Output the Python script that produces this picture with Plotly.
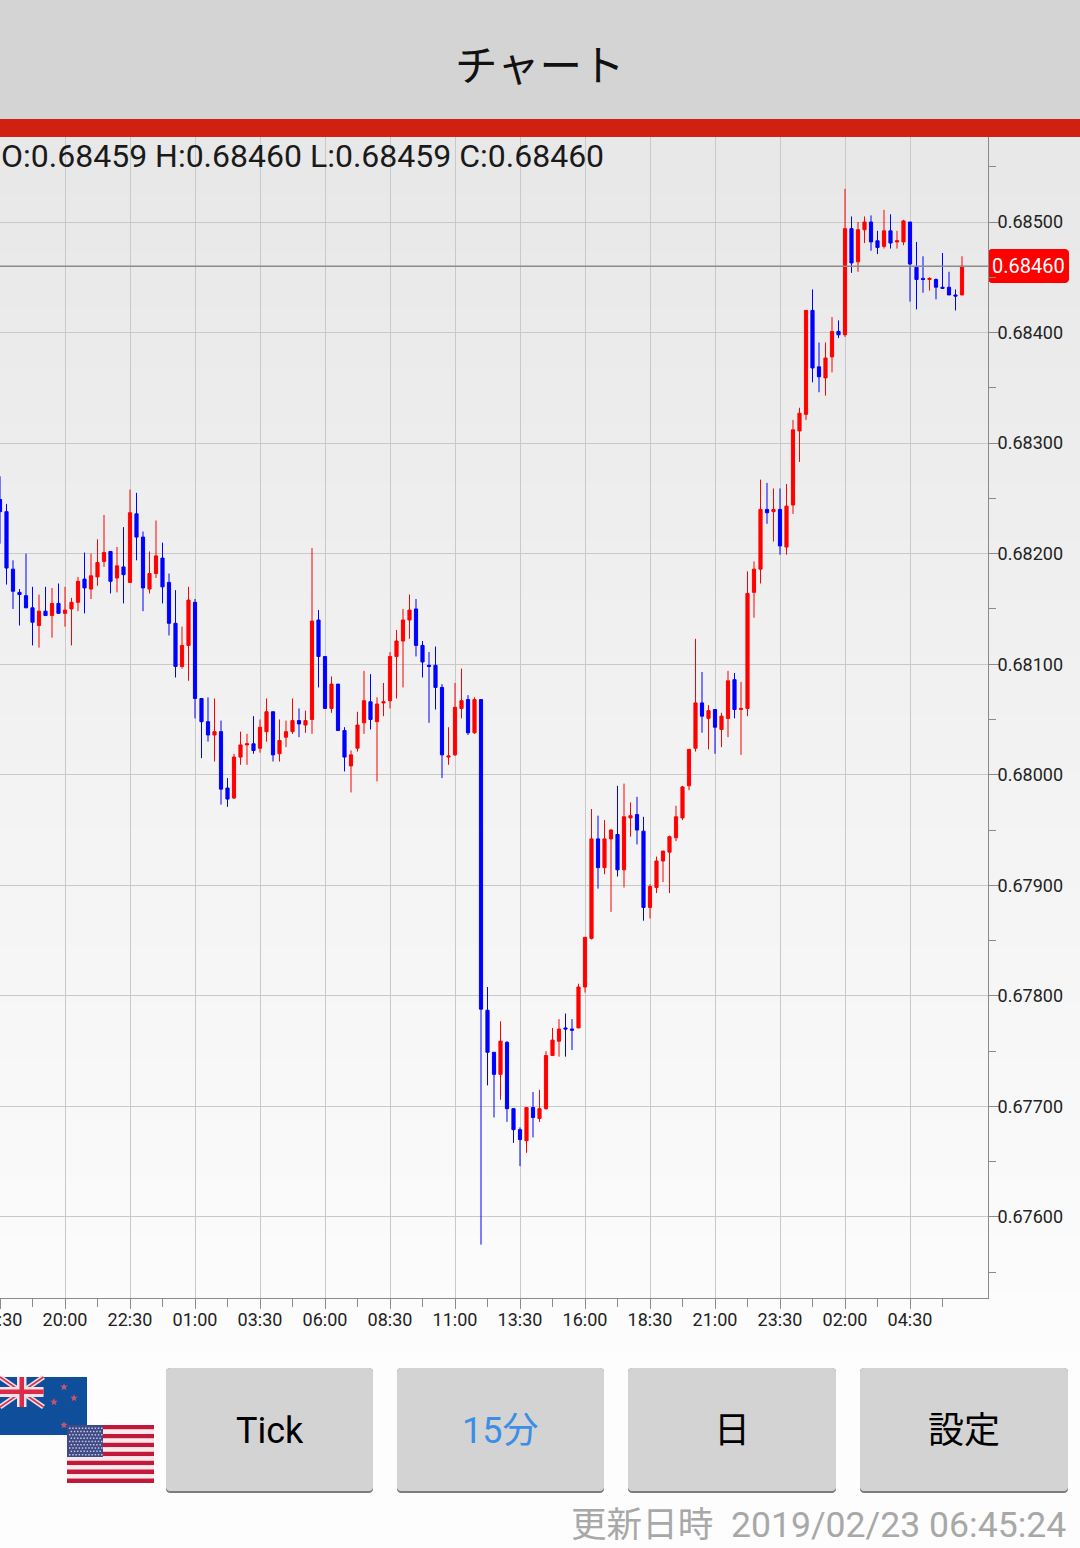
import math
import plotly.graph_objects as go

# Prices in 1e-5 units, one entry per 15-minute candle
highs = [68270,68245,68194,68168,68200,68170,68163,68170,68169,68173,
68170,68160,68179,68201,68200,68213,68235,68202,68206,68224,
68258,68255,68220,68202,68230,68210,68182,68167,68134,68170,
68159,68069,68070,68069,68049,67997,68019,68039,68037,68053,
68050,68069,68057,68050,68049,68069,68060,68058,68205,68149,
68107,68089,68082,68043,68022,68057,68094,68091,68070,68083,
68111,68131,68150,68163,68159,68121,68111,68116,68082,68043,
68083,68096,68072,68070,68068,67808,67749,67777,67759,67698,
67681,67699,67713,67715,67750,67771,67779,67784,67779,67811,
67853,67969,67963,67959,67951,67990,67992,67975,67980,67962,
67901,67926,67931,67945,67972,67990,68023,68123,68093,68063,
68059,68056,68094,68092,68084,68184,68193,68267,68264,68259,
68259,68263,68321,68332,68420,68439,68391,68391,68414,68411,
68530,68505,68500,68505,68506,68492,68511,68507,68492,68502,
68500,68482,68469,68450,68449,68472,68455,68439,68469]
lows = [68209,68172,68150,68135,68151,68117,68115,68144,68124,68146,
68134,68117,68148,68146,68159,68171,68188,68164,68165,68155,
68174,68194,68148,68164,68178,68155,68126,68088,68096,68085,
68051,68015,68030,68012,67973,67971,67978,68009,68009,68019,
68020,68030,68012,68012,68025,68037,68034,68038,68037,68079,
68060,68056,68040,68003,67984,68021,68037,68041,67994,68053,
68060,68069,68079,68123,68107,68088,68047,68059,67997,68009,
68017,68051,68036,68037,67575,67719,67690,67706,67686,67667,
67646,67658,67672,67686,67697,67746,67745,67745,67751,67771,
67803,67851,67897,67910,67876,67908,67898,67944,67937,67868,
67870,67893,67903,67893,67940,67959,67986,68021,68038,68023,
68019,68025,68034,68051,68018,68053,68142,68173,68227,68211,
68199,68199,68236,68283,68321,68355,68346,68343,68364,68395,
68396,68454,68455,68481,68474,68471,68476,68476,68476,68479,
68428,68421,68436,68438,68430,68440,68434,68420,68434]
opens = [68249,68238,68186,68165,68162,68151,68135,68148,68144,68155,
68146,68150,68156,68177,68168,68179,68193,68202,68178,68188,
68174,68236,68215,68168,68182,68196,68174,68137,68098,68117,
68156,68069,68048,68036,68039,67988,67979,68016,68027,68028,
68024,68039,68057,68019,68034,68039,68049,68045,68050,68140,
68107,68060,68082,68040,68008,68024,68047,68066,68048,68065,
68067,68107,68121,68140,68150,68117,68099,68099,68079,68016,
68018,68060,68068,68038,68068,67787,67749,67729,67758,67698,
67679,67669,67699,67689,67698,67746,67759,67771,67770,67771,
67808,67852,67942,67916,67942,67946,67914,67961,67964,67949,
67880,67898,67922,67930,67943,67961,67990,68024,68065,68051,
68059,68041,68051,68086,68059,68060,68165,68186,68240,68238,
68240,68206,68244,68311,68326,68420,68369,68359,68378,68401,
68398,68494,68464,68493,68500,68483,68478,68492,68482,68482,
68500,68459,68449,68448,68448,68441,68441,68434,68434]
closes = [68238,68187,68166,68163,68151,68138,68148,68144,68155,68146,
68149,68156,68175,68169,68180,68192,68201,68175,68189,68181,
68237,68215,68169,68182,68198,68170,68137,68098,68117,68158,
68069,68048,68036,68039,67987,67978,68016,68027,68028,68022,
68043,68057,68018,68031,68039,68049,68046,68049,68139,68107,
68060,68082,68040,68016,68018,68045,68067,68050,68064,68066,
68107,68121,68140,68149,68117,68102,68098,68079,68018,68017,
68061,68067,68038,68068,67788,67749,67729,67759,67698,67679,
67670,67699,67690,67698,67746,67760,67770,67770,67769,67808,
67853,67942,67916,67942,67950,67914,67962,67963,67950,67880,
67899,67922,67931,67944,67962,67989,68023,68065,68053,68058,
68043,68053,68085,68059,68060,68164,68186,68240,68237,68240,
68207,68243,68312,68327,68420,68368,68360,68377,68401,68398,
68494,68463,68493,68500,68482,68477,68492,68481,68483,68501,
68462,68448,68448,68449,68441,68440,68434,68433,68460]
time_labels = ["17:30","20:00","22:30","01:00","03:30","06:00","08:30","11:00",
               "13:30","16:00","18:30","21:00","23:30","02:00","04:30"]
price_ticks = [0.676,0.677,0.678,0.679,0.680,0.681,0.682,0.683,0.684,0.685]
last_price = 0.68460
ohlc_text = "O:0.68459 H:0.68460 L:0.68459 C:0.68460"
title_text = "チャート"
updated_text = "更新日時  2019/02/23 06:45:24"
buttons = [("Tick", 166, 373, "#000000"), ("15分", 397, 604, "#3b8ee6"),
           ("日", 628, 836, "#000000"), ("設定", 860, 1068, "#000000")]

W, H = 1080, 1548
L, R, T, B = 0, 988, 137, 1298
FONT = "Roboto, 'Noto Sans CJK JP', sans-serif"
CJK = "'Noto Sans CJK JP', Roboto, sans-serif"

def xp(px):
    return (px - L) / (R - L)

def yp(py):
    return (B - py) / (B - T)

shapes = []

def rect(x0, y0, x1, y1, fill):
    shapes.append(dict(type="rect", xref="paper", yref="paper", x0=xp(x0), x1=xp(x1), y0=yp(y0), y1=yp(y1),
                       fillcolor=fill, line=dict(width=0), layer="below"))

def seg(x0, y0, x1, y1, color, w):
    shapes.append(dict(type="line", xref="paper", yref="paper", x0=xp(x0), x1=xp(x1), y0=yp(y0), y1=yp(y1),
                       line=dict(color=color, width=w), layer="below"))

def poly(points, fill):
    d = "M " + " L ".join(f"{xp(a):.5f} {yp(b):.5f}" for a, b in points) + " Z"
    shapes.append(dict(type="path", xref="paper", yref="paper", path=d, fillcolor=fill,
                       line=dict(width=0), layer="below"))

def rounded(x0, y0, x1, y1, r, fill):
    pts = []
    for cx, cy, a0 in [(x1 - r, y0 + r, -90), (x1 - r, y1 - r, 0), (x0 + r, y1 - r, 90), (x0 + r, y0 + r, 180)]:
        for k in range(5):
            a = math.radians(a0 + k * 22.5)
            pts.append((cx + r * math.cos(a), cy + r * math.sin(a)))
    poly(pts, fill)

def star(cx, cy, r, fill):
    pts = []
    for k in range(10):
        a = math.radians(-90 + 36 * k)
        rr = r if k % 2 == 0 else r * 0.42
        pts.append((cx + rr * math.cos(a), cy + rr * math.sin(a)))
    poly(pts, fill)

# Page background: soft vertical gradient
rect(0, 0, W, H, "#fdfdfd")
g0, g1 = 232, 253
y_start, y_end = 137, 1350
steps = g1 - g0
for k in range(steps):
    v = g0 + k
    a = y_start + (y_end - y_start) * k / steps
    b = y_start + (y_end - y_start) * (k + 1) / steps
    rect(0, a, W, b + 0.5, f"rgb({v},{v},{v})")

# Header
rect(0, 0, W, 119, "#d4d4d4")
rect(0, 119, W, 137, "#cf2012")

# Last price line
shapes.append(dict(type="line", xref="paper", yref="y", x0=0, x1=1, y0=last_price, y1=last_price,
                   line=dict(color="#8c8c8c", width=1.6), layer="above"))
rounded(988, 249, 1069, 283, 4, "#fe0000")

# New Zealand flag
NZ = "#0f4e9b"
rect(0, 1377, 87, 1435, NZ)
seg(0, 1377, 43.5, 1407, "#f0dfe4", 5)
seg(43.5, 1377, 0, 1407, "#f0dfe4", 5)
seg(0, 1377, 43.5, 1407, "#d8324f", 1.6)
seg(43.5, 1377, 0, 1407, "#d8324f", 1.6)
rect(17, 1377, 26.5, 1407, "#f3e3e8")
rect(0, 1387, 43.5, 1397, "#f3e3e8")
rect(19.5, 1377, 24, 1407, "#dc2a48")
rect(0, 1389.5, 43.5, 1394, "#dc2a48")
for sx, sy in [(64, 1387), (74, 1398), (54, 1402), (64, 1425)]:
    star(sx, sy, 4, "#c9566f")

# United States flag
for k in range(13):
    a = 1425 + 58 * k / 13
    b = 1425 + 58 * (k + 1) / 13
    rect(67, a, 154, b, "#c2183a" if k % 2 == 0 else "#f7e9ec")
rect(67, 1425, 103, 1457, "#3f4a86")
for row in range(9):
    for col in range(11 if row % 2 == 0 else 10):
        ox = 69 + col * 3.2 + (0 if row % 2 == 0 else 1.6)
        oy = 1427.5 + row * 3.3
        rect(ox, oy, ox + 1.5, oy + 1.5, "#c3c8de")

# Buttons
for label, bx0, bx1, color in buttons:
    rounded(bx0, 1368, bx1, 1493, 4, "#7d7d7d")
    rounded(bx0, 1368, bx1, 1491, 4, "#d3d3d3")

annotations = []

def text(px, py, s, size, color, anchor="center", family=FONT):
    annotations.append(dict(xref="paper", yref="paper", x=xp(px), y=yp(py), text=s, showarrow=False,
                            xanchor=anchor, yanchor="middle", borderpad=0, borderwidth=0,
                            font=dict(family=family, size=size, color=color)))

text(540, 63, title_text, 42.5, "#111111", family=CJK)
text(1, 156, ohlc_text, 32, "#1a1a1a", "left")
text(1028.5, 266, f"{last_price:.5f}", 20, "#ffffff")
for label, bx0, bx1, color in buttons:
    text((bx0 + bx1) / 2, 1431, label, 36, color)
text(1066, 1525, updated_text, 35.6, "#a8a8a8", "right")

pts = 100000.0
idx = list(range(len(closes)))
fig = go.Figure(go.Candlestick(
    x=idx,
    open=[v / pts for v in opens], high=[v / pts for v in highs],
    low=[v / pts for v in lows], close=[v / pts for v in closes],
    increasing=dict(line=dict(color="#ff0000", width=1), fillcolor="#ff0000"),
    decreasing=dict(line=dict(color="#0000ff", width=1), fillcolor="#0000ff"),
    whiskerwidth=0, showlegend=False, hoverinfo="skip"))

major_x = [10 * k for k in range(len(time_labels))]
minor_x = [5 + 10 * k for k in range(len(time_labels))]
axis_color = "#8a8a8a"
grid_color = "#c9c9c9"
fig.update_layout(
    width=W, height=H, margin=dict(l=L, r=W - R, t=T, b=H - B, autoexpand=False),
    paper_bgcolor="rgba(0,0,0,0)", plot_bgcolor="rgba(0,0,0,0)",
    boxgap=0.3, shapes=shapes, annotations=annotations, dragmode=False,
    font=dict(family=FONT),
    xaxis=dict(range=[0, 152], rangeslider=dict(visible=False), tickmode="array", automargin=False,
               tickvals=major_x, ticktext=time_labels, showgrid=True, gridcolor=grid_color, gridwidth=1,
               zeroline=False, showline=True, linecolor=axis_color, linewidth=1, ticks="outside",
               ticklen=10, tickcolor=axis_color, tickwidth=1, ticklabeloverflow="allow",
               ticklabelstandoff=-5,
               tickfont=dict(family=FONT, size=18, color="#222222"),
               minor=dict(tickmode="array", tickvals=minor_x, ticks="outside", ticklen=8,
                          tickcolor=axis_color, tickwidth=1, showgrid=False)),
    yaxis=dict(range=[0.675267, 0.685769], side="right", tickmode="array", tickvals=price_ticks,
               automargin=False, ticklabelstandoff=-5,
               tickformat=".5f", showgrid=True, gridcolor=grid_color, gridwidth=1, zeroline=False,
               showline=True, linecolor=axis_color, linewidth=1, ticks="outside", ticklen=10,
               tickcolor=axis_color, tickwidth=1,
               tickfont=dict(family=FONT, size=18, color="#222222"),
               minor=dict(dtick=0.0005, tick0=0.6755, ticks="outside", ticklen=7,
                          tickcolor=axis_color, tickwidth=1, showgrid=False)),
)

fig.write_html("out.html", config=dict(displayModeBar=False, staticPlot=True),
               post_script="document.body.style.margin='0';document.documentElement.style.overflow='hidden';")
